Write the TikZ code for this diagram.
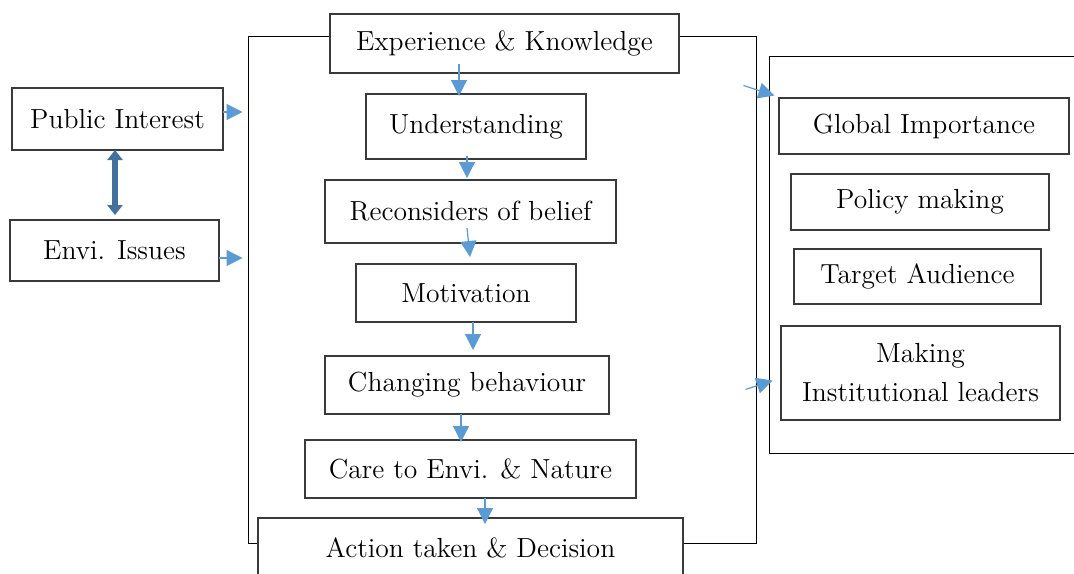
\documentclass[tikz,border=0pt]{standalone}
\usepackage{tikz}
\usetikzlibrary{arrows.meta}
\definecolor{arrowblue}{HTML}{5B9BD5}
\definecolor{linkblue}{HTML}{41719C}
\definecolor{boxline}{HTML}{3A3A3A}
\tikzset{
	box/.style = {draw = boxline, line width = 0.6pt, fill = white, inner sep = 0pt, outer sep = 0pt, align = center, font = \fontsize{13.8}{19.5}\selectfont},
	arr/.style = {arrowblue, line width = 0.6pt, -{Triangle[length = 8pt, width = 8pt]}},
	dbl/.style = {linkblue, line width = 3pt, {Triangle[length = 5pt, width = 7.5pt]}-{Triangle[length = 5pt, width = 7.5pt]}}
}
\begin{document}
\begin{tikzpicture}[x = 0.5pt, y = -0.5pt]
	\useasboundingbox (0, 0) rectangle (1074, 573);
	% frames round the chain and the outcomes
	\node [draw = black, line width = 0.5pt, inner sep = 0pt, minimum width = 254pt, minimum height = 253.5pt] (frame) at (502, 289.5) {};
	\node [draw = black, line width = 0.5pt, inner sep = 0pt, minimum width = 160.5pt, minimum height = 198.5pt] (panel) at (929.5, 254.5) {};
	% inputs
	\node [box, minimum width = 105.5pt, minimum height = 31pt] (pub) at (117.5, 119) {Public Interest};
	\node [box, minimum width = 104.5pt, minimum height = 30.5pt] (envi) at (114.5, 250.5) {Envi. Issues};
	% chain
	\node [box, minimum width = 174.5pt, minimum height = 29.5pt] (ek) at (504.5, 43.5) {Experience \& Knowledge};
	\node [box, minimum width = 110pt, minimum height = 32.5pt] (und) at (476, 126.5) {Understanding};
	\node [box, minimum width = 145.5pt, minimum height = 31.5pt] (rec) at (470.5, 211.5) {Reconsiders of belief};
	\node [box, minimum width = 110pt, minimum height = 29pt] (mot) at (466, 293) {Motivation};
	\node [box, minimum width = 142pt, minimum height = 29pt] (chg) at (467, 385) {Changing behaviour};
	\node [box, minimum width = 165.5pt, minimum height = 29pt] (care) at (470.5, 469) {Care to Envi. \& Nature};
	\node [box, minimum width = 212.5pt, minimum height = 30pt] (act) at (470.5, 548) {Action taken \& Decision};
	% outcomes
	\node [box, minimum width = 145pt, minimum height = 28pt] (glob) at (924, 126) {Global Importance};
	\node [box, minimum width = 129pt, minimum height = 28pt] (pol) at (920, 202) {Policy making};
	\node [box, minimum width = 123.5pt, minimum height = 27.5pt] (aud) at (917.5, 276.5) {Target Audience};
	\node [box, minimum width = 139.5pt, minimum height = 47pt] (inst) at (920.5, 373) {Making\\Institutional leaders};
	% links
	\draw [dbl] ([xshift = -1.25pt]pub.south) -- ([xshift = 0.25pt, yshift = 2.5pt]envi.north);
	\draw [arr] ([yshift = 3.5pt]pub.east) -- ([yshift = 3.5pt]pub.east -| frame.west) [shorten > = 2.5pt];
	\draw [arr] ([yshift = -3.75pt]envi.east) -- ([yshift = -3.75pt]envi.east -| frame.west) [shorten > = 2.5pt];
	\draw [arr] ([xshift = -22.75pt, yshift = 4.5pt]ek.south) -- ([xshift = -8.5pt, yshift = -1pt]und.north);
	\draw [arr] ([xshift = -4.5pt, yshift = 1.5pt]und.south) -- ([xshift = -1.75pt, yshift = 1pt]rec.north);
	\draw [arr] ([xshift = -1.75pt, yshift = 7.5pt]rec.south) -- ([xshift = 2pt, yshift = 3.5pt]mot.north);
	\draw [arr] ([xshift = 3.5pt]mot.south) -- ([xshift = 3pt, yshift = 3pt]chg.north);
	\draw [arr] ([xshift = -3pt]chg.south) -- ([xshift = -4.75pt, yshift = -1pt]care.north);
	\draw [arr] ([xshift = 7.25pt]care.south) -- ([xshift = 7.25pt, yshift = -3pt]act.north);
	\draw [arr] ([shift = {(-13, 50)}]frame.north east) -- ([shift = {(6, 40)}]panel.north west);
	\draw [arr] ([shift = {(-11, -154)}]frame.south east) -- ([shift = {(4, -73)}]panel.south west);
\end{tikzpicture}
\end{document}
